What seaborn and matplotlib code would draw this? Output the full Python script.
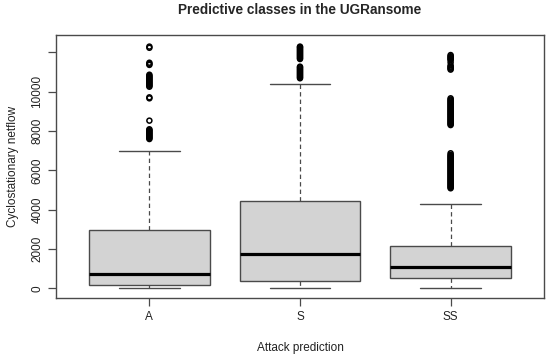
import matplotlib
matplotlib.use("Agg")
import matplotlib.pyplot as plt
import seaborn as sns
import pandas as pd

# ---- data ----
categories = ["A", "S", "SS"]
whisker_low = [0, 0, 0]
q1 = [150, 390, 510]
median = [730, 1745, 1085]
q3 = [2950, 4440, 2165]
whisker_high = [6965, 10375, 4285]

outliers_A = [12230, 12290, 11360, 11410, 11470,
              10250, 10300, 10350, 10400, 10450, 10500, 10550, 10600, 10650,
              10700, 10750, 10800, 10860,
              9660, 9710, 8525,
              7590, 7640, 7690, 7740, 7790, 7840, 7890, 7940, 7990, 8040, 8085]
outliers_S = [11660, 11710, 11760, 11810, 11860, 11910, 11960, 12010, 12060,
              12110, 12160, 12210, 12260, 12290,
              10680, 10730, 10780, 10830, 10880, 10930, 10980, 11030, 11080,
              11130, 11180, 11230, 11270]
outliers_SS = [11120, 11170, 11220, 11270, 11330, 11480, 11600, 11650, 11700,
               11750, 11800, 11860,
               8300, 8350, 8400, 8450, 8500, 8550, 8600, 8650, 8700, 8750,
               8800, 8850, 8900, 8950, 9000, 9050, 9100, 9150, 9200, 9250,
               9300, 9350, 9400, 9450, 9500, 9550, 9600, 9660,
               5085, 5135, 5185, 5235, 5285, 5335, 5385, 5435, 5485, 5535,
               5585, 5635, 5685, 5735, 5785, 5835, 5885, 5935, 5985, 6035,
               6085, 6135, 6185, 6235, 6285, 6335, 6385, 6435, 6485, 6535,
               6585, 6635, 6685, 6735, 6785, 6865]

y_ticks = [0, 2000, 4000, 6000, 8000, 10000, 12000]
y_tick_labels = ["0", "2000", "4000", "6000", "8000", "10000", ""]

title = "Predictive classes in the UGRansome"
x_label = "Attack prediction"
y_label = "Cyclostationary netflow"

# ---- styling ----
sns.set_theme(style="white")
plt.rcParams["font.family"] = ["Liberation Sans", "DejaVu Sans"]

fig = plt.figure(figsize=(5.5, 3.57), dpi=100)
ax = fig.add_axes([56 / 550, 59 / 357, 488 / 550, 263 / 357])

stats = []
for i, c in enumerate(categories):
    stats.append(dict(label=c, whislo=whisker_low[i], q1=q1[i], med=median[i],
                      q3=q3[i], whishi=whisker_high[i], fliers=[]))

edge = "#4a4a4a"
ax.bxp(stats, positions=range(len(categories)), widths=0.8, patch_artist=True,
       showfliers=False,
       boxprops=dict(facecolor="#d3d3d3", edgecolor=edge, linewidth=1.0),
       medianprops=dict(color="black", linewidth=2.3, solid_capstyle="butt"),
       whiskerprops=dict(color=edge, linewidth=0.9, linestyle=(0, (3.5, 2.5))),
       capprops=dict(color=edge, linewidth=1.0),
       capwidths=0.4)

out_df = pd.DataFrame({
    "cat": (["A"] * len(outliers_A) + ["S"] * len(outliers_S)
            + ["SS"] * len(outliers_SS)),
    "val": outliers_A + outliers_S + outliers_SS,
})
sns.stripplot(data=out_df, x="cat", y="val", order=categories, jitter=False,
              ax=ax, marker="o", size=3.6, facecolor="none",
              edgecolor="black", linewidth=1.1, native_scale=False)
for coll in ax.collections:
    coll.set_facecolor("none")
    coll.set_edgecolor("black")

ax.set_xlim(-0.62, 2.62)
ax.set_ylim(-495, 12880)
ax.set_xticks(range(len(categories)))
ax.set_xticklabels(categories, fontsize=8.5)
ax.set_yticks(y_ticks)
ax.set_yticklabels(y_tick_labels, fontsize=8.5, rotation=90, va="center")
ax.tick_params(axis="both", which="both", length=6, width=0.9, color=edge,
               direction="out", left=True, bottom=True, pad=3, labelcolor="#222222")
for s in ax.spines.values():
    s.set_visible(True)
    s.set_color(edge)
    s.set_linewidth(1.0)

ax.set_xlabel(x_label, fontsize=8.5, color="#222222", labelpad=14)
ax.set_ylabel(y_label, fontsize=8.5, color="#222222", labelpad=9)
fig.text(300 / 550, 1 - 10 / 357, title, ha="center", va="center",
         fontsize=9.8, fontweight="bold")

fig.savefig("out.png", dpi=100, facecolor="white")
